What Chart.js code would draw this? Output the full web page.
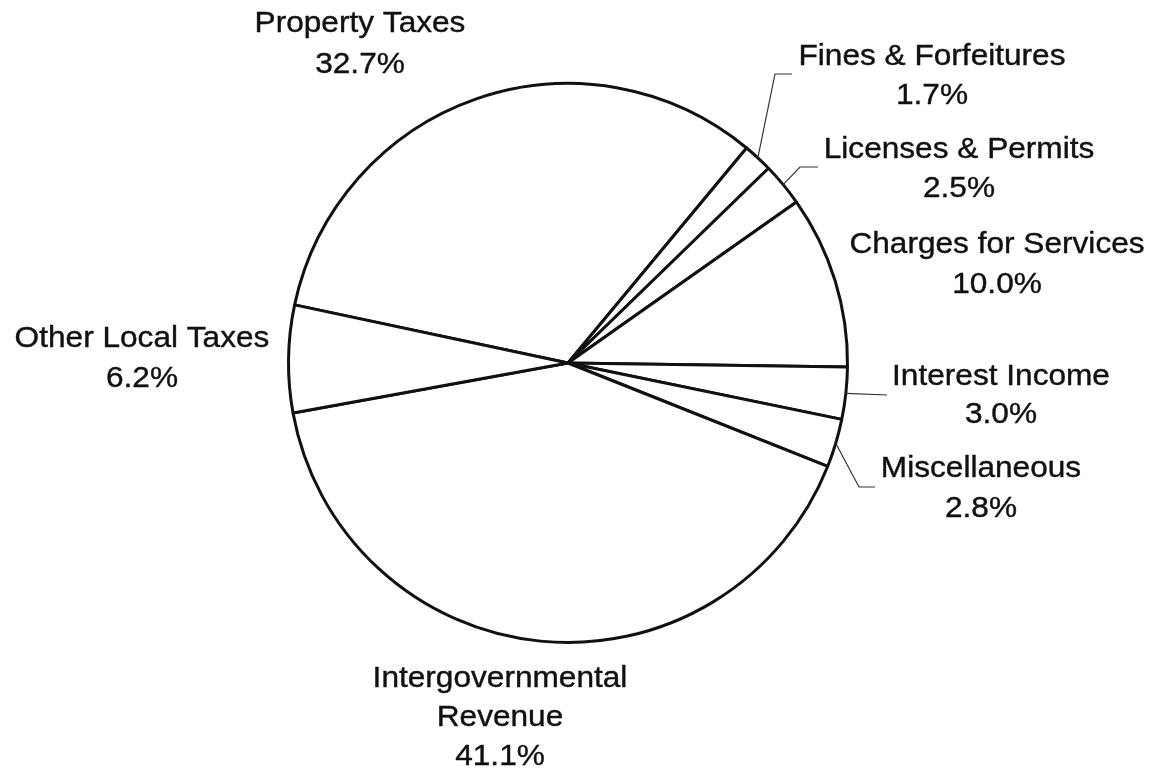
<!DOCTYPE html>
<html>
<head>
<meta charset="utf-8">
<script src="https://cdn.jsdelivr.net/npm/chart.js@4.4.0/dist/chart.umd.min.js"></script>
<style>
  html, body { margin: 0; padding: 0; background: #fff; }
  #wrap { width: 1153px; height: 772px; }
</style>
</head>
<body>
<div id="wrap"><canvas id="pieChart" width="1153" height="772"></canvas></div>
<script>
const categories = ['Property Taxes', 'Fines & Forfeitures', 'Licenses & Permits', 'Charges for Services',
    'Interest Income', 'Miscellaneous', 'Intergovernmental Revenue', 'Other Local Taxes'];
const shares = [32.7, 1.7, 2.5, 10.0, 3.0, 2.8, 41.1, 6.2];
const labelLines = [['Property Taxes'], ['Fines & Forfeitures'], ['Licenses & Permits'], ['Charges for Services'],
    ['Interest Income'], ['Miscellaneous'], ['Intergovernmental', 'Revenue'], ['Other Local Taxes']];

// label placement: center x, first baseline, line height, leader elbow/end points
const labelPos = [
    { x: 360, y: 32, lh: 41 },
    { x: 932, y: 65, lh: 39, leader: [[775, 74], [792, 74]] },
    { x: 959, y: 158, lh: 39, leader: [[800, 167], [818, 167]] },
    { x: 997, y: 253, lh: 40 },
    { x: 1001, y: 385, lh: 38, leader: [[887, 395]] },
    { x: 981, y: 477, lh: 40, leader: [[859, 487], [875, 487]] },
    { x: 500, y: 687, lh: 39 },
    { x: 142, y: 347, lh: 40 }
];

const pieLabels = {
    id: 'pieLabels',
    afterDatasetsDraw(chart) {
        const ctx = chart.ctx;
        const meta = chart.getDatasetMeta(0);
        ctx.save();
        meta.data.forEach((arc, i) => {
            const p = labelPos[i];
            if (p.leader) {
                const mid = (arc.startAngle + arc.endAngle) / 2;
                ctx.beginPath();
                ctx.moveTo(arc.x + Math.cos(mid) * arc.outerRadius, arc.y + Math.sin(mid) * arc.outerRadius);
                p.leader.forEach(pt => ctx.lineTo(pt[0], pt[1]));
                ctx.strokeStyle = '#333';
                ctx.lineWidth = 1.2;
                ctx.stroke();
            }
            const lines = labelLines[i].concat([shares[i].toFixed(1) + '%']);
            ctx.fillStyle = '#111';
            ctx.strokeStyle = '#111';
            ctx.lineWidth = 0.4;
            ctx.font = '29px "Liberation Sans", Arial, sans-serif';
            ctx.textAlign = 'center';
            ctx.textBaseline = 'alphabetic';
            lines.forEach((t, k) => {
                ctx.save();
                ctx.translate(p.x, p.y + k * p.lh);
                ctx.scale(1.09, 1);
                ctx.fillText(t, 0, 0);
                ctx.strokeText(t, 0, 0);
                ctx.restore();
            });
        });
        ctx.restore();
    }
};

new Chart(document.getElementById('pieChart'), {
    type: 'pie',
    data: {
        labels: categories,
        datasets: [{
            data: shares,
            backgroundColor: '#ffffff',
            borderColor: '#111111',
            borderWidth: 3
        }]
    },
    options: {
        responsive: false,
        animation: false,
        rotation: -78,
        layout: { padding: { left: 287, right: 304, top: 82, bottom: 128 } },
        plugins: {
            legend: { display: false },
            tooltip: { enabled: false }
        }
    },
    plugins: [pieLabels]
});
</script>
</body>
</html>
